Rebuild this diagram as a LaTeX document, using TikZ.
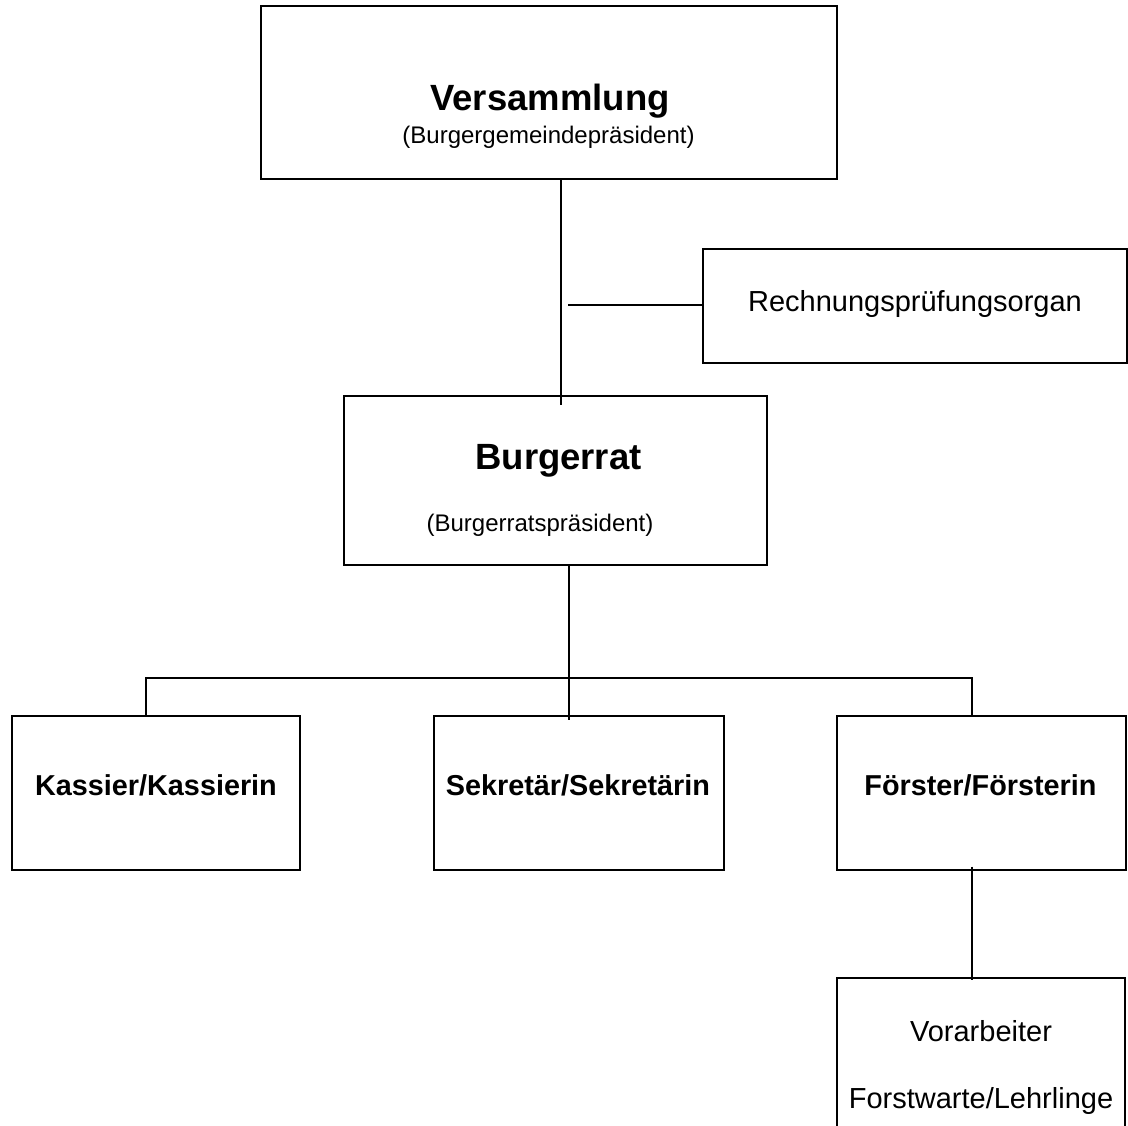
\documentclass[tikz,border=0pt]{standalone}
\usepackage{fontspec}
\setmainfont{Liberation Sans}
\begin{document}
\begin{tikzpicture}[x=1pt,y=-1pt,
  box/.style={draw=black, line width=2pt, inner sep=0pt, fill=none},
  conn/.style={draw=black, line width=2pt},
  lbl/.style={anchor=base, inner sep=0pt},
  big/.style={font=\fontsize{36.5}{40}\selectfont\bfseries},
  mid/.style={font=\fontsize{28.8}{32}\selectfont\bfseries},
  reg/.style={font=\fontsize{29}{32}\selectfont},
  small/.style={font=\fontsize{24}{28}\selectfont}]
\useasboundingbox[fill=white] (0,0) rectangle (1128,1126);
% boxes
\node[box, minimum width=576pt, minimum height=173pt] (vers) at (549,92.5) {};
\node[box, minimum width=424pt, minimum height=114pt] (rpo) at (915,306) {};
\node[box, minimum width=423pt, minimum height=169pt] (rat) at (555.5,480.5) {};
\node[box, minimum width=288pt, minimum height=154pt] (kas) at (156,792.5) {};
\node[box, minimum width=290pt, minimum height=154pt] (sek) at (579,792.5) {};
\node[box, minimum width=289pt, minimum height=154pt] (foe) at (981.5,792.5) {};
\node[box, minimum width=288pt, minimum height=170pt] (vor) at (981,1063) {};
% texts
\node[lbl, big] (t1) at (550,111) {Versammlung};
\node[lbl, small] (t2) at (548.5,143.5) {(Burgergemeindepräsident)};
\node[lbl, reg] (t3) at (915,312) {Rechnungsprüfungsorgan};
\node[lbl, big] (t4) at (558.5,469.5) {Burgerrat};
\node[lbl, small] (t5) at (540,531) {(Burgerratspräsident)};
\node[lbl, mid] (t6) at (156,795) {Kassier/Kassierin};
\node[lbl, mid] (t7) at (578,795) {Sekretär/Sekretärin};
\node[lbl, mid] (t8) at (980.5,795) {Förster/Försterin};
\node[lbl, reg] (t9) at (981,1041) {Vorarbeiter};
\node[lbl, reg] (t10) at (981,1108) {Forstwarte/Lehrlinge};
% connectors
\draw[conn] ([xshift=12pt]vers.south) -- ([xshift=5.5pt,yshift=-10pt]rat.north);
\coordinate (tap) at (568,305);
\draw[conn] (tap) -- (tap -| rpo.west);
\draw[conn] ([xshift=13.5pt]rat.south) -- ([xshift=-10pt,yshift=-5pt]sek.north);
\draw[conn] ([xshift=-10pt]kas.north) -- ++(0,-37) -| ([xshift=-9.5pt]foe.north);
\draw[conn] ([xshift=-9.5pt,yshift=4pt]foe.south) -- ([xshift=-9pt,yshift=-3pt]vor.north);
\end{tikzpicture}
\end{document}
